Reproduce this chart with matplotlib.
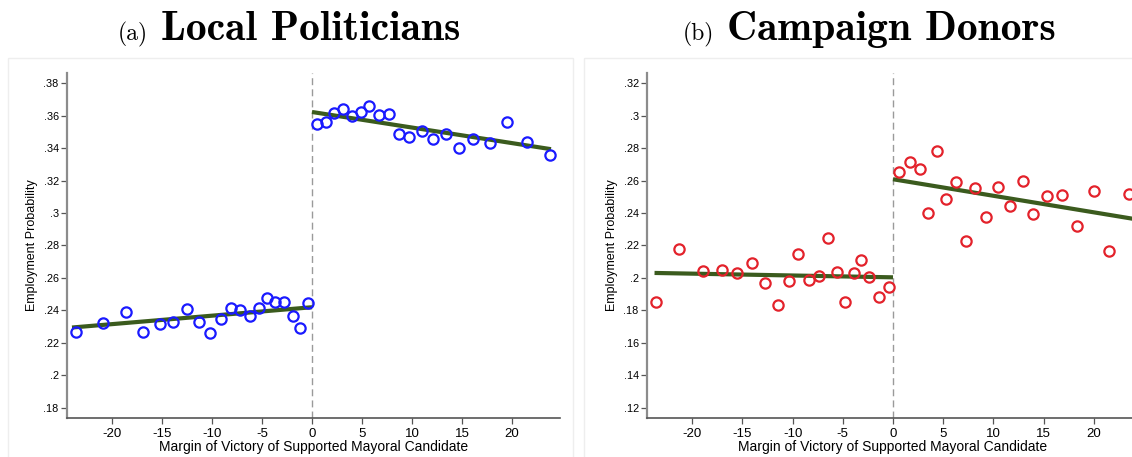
import matplotlib
matplotlib.use("Agg")
from matplotlib import pyplot as plt
from matplotlib.patches import Rectangle

W, H = 1132, 457

# (a) local politicians - binned means
pol_x_left = [-23.6, -20.9, -18.6, -16.9, -15.2, -13.9, -12.5, -11.3, -10.2, -9.1,
              -8.1, -7.2, -6.2, -5.3, -4.5, -3.7, -2.8, -1.9, -1.2, -0.4]
pol_y_left = [.2269, .2322, .2390, .2270, .2316, .2328, .2410, .2328, .2259, .2350,
              .2418, .2402, .2363, .2418, .2478, .2455, .2455, .2367, .2293, .2445]
pol_x_right = [0.5, 1.4, 2.2, 3.1, 4.0, 4.9, 5.7, 6.7, 7.7, 8.7,
               9.7, 11.0, 12.1, 13.4, 14.7, 16.1, 17.8, 19.5, 21.5, 23.8]
pol_y_right = [.3550, .3560, .3618, .3638, .3600, .3622, .3660, .3606, .3610, .3487,
               .3466, .3505, .3454, .3485, .3400, .3456, .3430, .3558, .3440, .3360]
pol_fit_left = ([-24.0, 0.0], [.2295, .2420])
pol_fit_right = ([0.0, 23.9], [.3622, .3393])

# (b) campaign donors - binned means
don_x_left = [-23.65, -21.3, -18.9, -17.0, -15.5, -14.0, -12.7, -11.5, -10.4, -9.5,
              -8.4, -7.4, -6.5, -5.6, -4.8, -3.9, -3.2, -2.4, -1.36, -0.43]
don_y_left = [.1855, .2179, .2043, .2052, .2033, .2091, .1968, .1833, .1984, .2148,
              .1990, .2015, .2248, .2039, .1855, .2031, .2109, .2007, .1882, .1945]
don_x_right = [0.6, 1.66, 2.66, 3.46, 4.39, 5.25, 6.28, 7.24, 8.17, 9.3,
               10.5, 11.7, 12.96, 13.9, 15.35, 16.8, 18.3, 20.0, 21.5, 23.55]
don_y_right = [.2651, .2713, .2670, .2400, .2782, .2488, .2594, .2228, .2557, .2375,
               .2563, .2443, .2596, .2396, .2506, .2508, .2320, .2537, .2166, .2516]
don_fit_left = ([-23.75, 0.0], [.2031, .2004])
don_fit_right = ([0.0, 23.85], [.2608, .2365])

x_ticks = [-20, -15, -10, -5, 0, 5, 10, 15, 20]
pol_y_ticks = [.18, .20, .22, .24, .26, .28, .30, .32, .34, .36, .38]
don_y_ticks = [.12, .14, .16, .18, .20, .22, .24, .26, .28, .30, .32]

GREEN = "#3b5b1e"


def stata_fmt(v):
    return f"{v:.2f}".lstrip("0").rstrip("0").rstrip(".")


def px_axes(fig, left, top, right, bottom):
    return fig.add_axes([left / W, 1 - bottom / H, (right - left) / W, (bottom - top) / H])


def panel(ax, xl, yl, xr, yr, fl, fr, color, yticks, ylim, xlim):
    ax.axvline(0, color="#9a9a9a", lw=1.0, ls=(0, (5, 3)), zorder=1)
    for xs, ys in ((xl, yl), (xr, yr)):
        ax.plot(xs, ys, ls="none", marker="o", ms=7.4, mfc="none",
                mec=color, mew=1.6, zorder=3, clip_on=False)
    for fx, fy in (fl, fr):
        ax.plot(fx, fy, color=GREEN, lw=3.0, solid_capstyle="butt", zorder=2)
    ax.set_xlim(*xlim)
    ax.set_ylim(*ylim)
    ax.set_xticks(x_ticks)
    ax.set_xticklabels([str(t) for t in x_ticks], fontsize=9.5, family="Liberation Sans")
    ax.set_yticks(yticks)
    ax.set_yticklabels([stata_fmt(t) for t in yticks], fontsize=7.8, family="Liberation Sans")
    for s in ("top", "right"):
        ax.spines[s].set_visible(False)
    ax.spines["left"].set_color("#8c8c8c")
    ax.spines["left"].set_linewidth(1.6)
    ax.spines["bottom"].set_color("#555555")
    ax.spines["bottom"].set_linewidth(1.2)
    ax.tick_params(axis="both", direction="out", length=4.5, width=0.9, color="#555555")
    ax.tick_params(axis="y", pad=1.5)
    ax.tick_params(axis="x", pad=2.5)
    ax.set_xlabel("Margin of Victory of Supported Mayoral Candidate", fontsize=10,
                  family="Liberation Sans", labelpad=0)
    ax.set_ylabel("Employment Probability", fontsize=9, family="Liberation Sans", labelpad=4)
    ax.set_facecolor("none")


fig = plt.figure(figsize=(W / 100, H / 100), dpi=100)
fig.patch.set_facecolor("white")

# faint graph-region frames
for (l, r) in ((8, 573), (584, 1140)):
    fig.patches.append(Rectangle((l / W, -0.01), (r - l) / W, 1 - 58 / H + 0.01,
                                 transform=fig.transFigure, fill=False,
                                 ec="#eeeeee", lw=1.0))

ax1 = px_axes(fig, 67, 73, 560, 418)
panel(ax1, pol_x_left, pol_y_left, pol_x_right, pol_y_right, pol_fit_left, pol_fit_right,
      "#1a1aff", pol_y_ticks, (.1738, .3862), (-24.5, 24.8))

ax2 = px_axes(fig, 647, 73, 1139, 418)
panel(ax2, don_x_left, don_y_left, don_x_right, don_y_right, don_fit_left, don_fit_right,
      "#e3222b", don_y_ticks, (.1138, .3262), (-24.5, 24.5))

# titles
base = 1 - 40 / H
fig.text(118 / W, base, "(a)", family="cmr10", fontsize=17, va="baseline")
fig.text(161 / W, base, "Local Politicians", family="cmb10", fontsize=30, va="baseline")
fig.text(683 / W, base, "(b)", family="cmr10", fontsize=17, va="baseline")
fig.text(727 / W, base, "Campaign Donors", family="cmb10", fontsize=30, va="baseline")

fig.savefig("out.png", dpi=100)
